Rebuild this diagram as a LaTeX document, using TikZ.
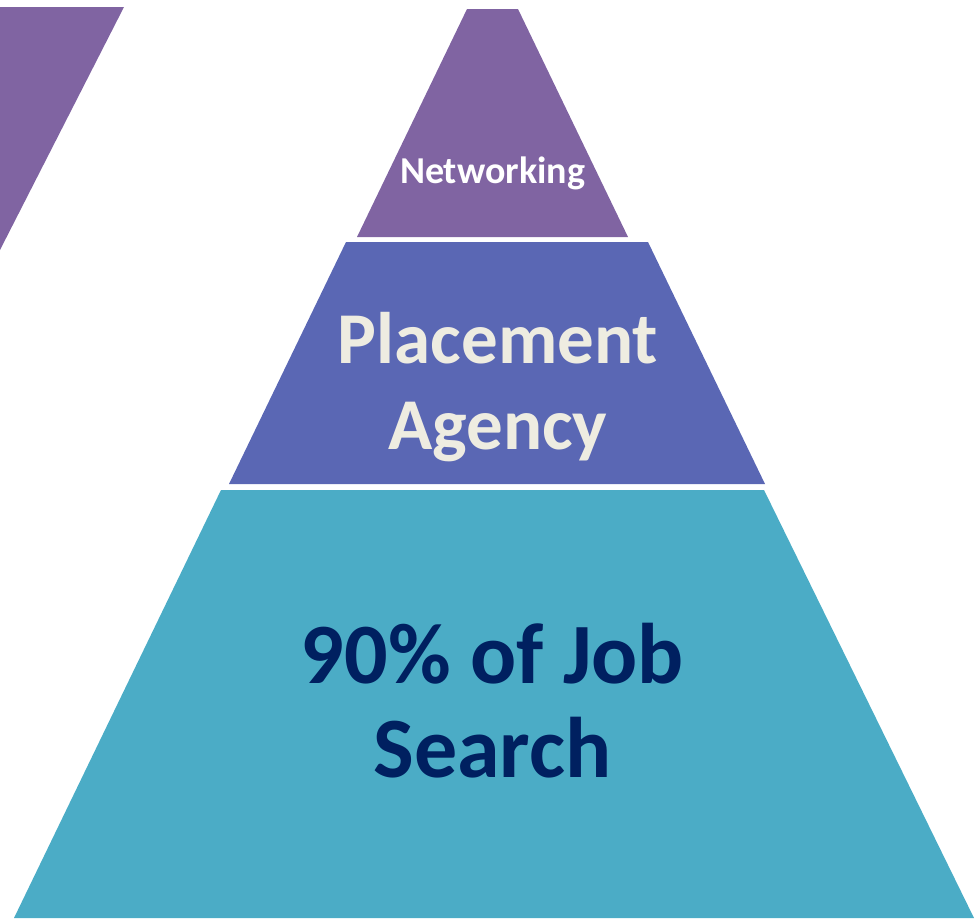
\documentclass[tikz,border=0pt]{standalone}
\usepackage{fontspec}
\setmainfont{Carlito}
\definecolor{pyrpurple}{HTML}{8064A2}
\definecolor{pyrblue}{HTML}{5A67B4}
\definecolor{pyrteal}{HTML}{4BACC6}
\definecolor{pyrcream}{HTML}{EEECE1}
\definecolor{pyrnavy}{HTML}{002060}
\tikzset{
  tier/.style={draw=none},
  lbl/.style={anchor=base, inner sep=0pt, font=\bfseries}
}
\begin{document}
\begin{tikzpicture}[x=1pt,y=-1pt]
\useasboundingbox (0,0) rectangle (976,918);
% partial shape at top left
\fill[pyrpurple] (0,7) -- (124,7) -- (0,250) -- cycle;
% top tier
\fill[tier, pyrpurple] (467,9) -- (518,9) -- (628,237) -- (357,237) -- cycle;
% middle tier
\fill[tier, pyrblue] (346,242) -- (648,242) -- (765,484) -- (229,484) -- cycle;
% bottom tier
\fill[tier, pyrteal] (221,490) -- (764,490) -- (974,918) -- (14,918) -- cycle;
% labels
\node[lbl, text=white, font=\bfseries\fontsize{38}{46}\selectfont] (net) at (492.5,183) {Networking};
\node[lbl, text=pyrcream, font=\bfseries\fontsize{73}{86}\selectfont] (plc1) at (498,363) {Placement};
\node[lbl, text=pyrcream, font=\bfseries\fontsize{73}{86}\selectfont] (plc2) at (498,449) {Agency};
\node[lbl, text=pyrnavy, font=\bfseries\fontsize{86}{94}\selectfont] (job1) at (492.5,683) {90\% of Job};
\node[lbl, text=pyrnavy, font=\bfseries\fontsize{86}{94}\selectfont] (job2) at (492.5,777) {Search};
\end{tikzpicture}
\end{document}
